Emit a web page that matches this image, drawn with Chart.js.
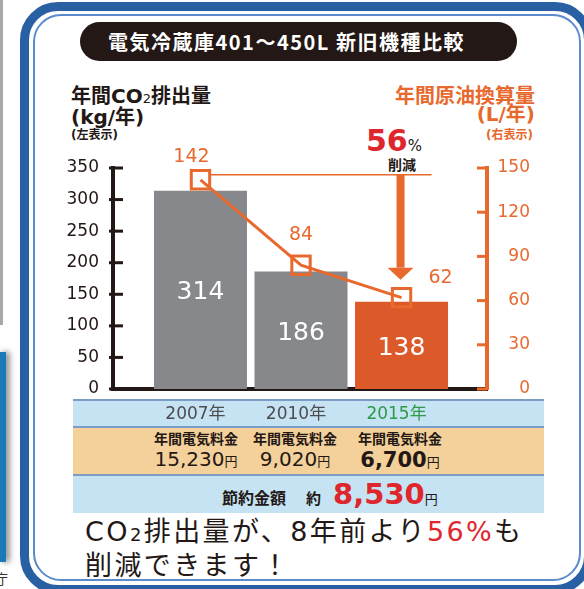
<!DOCTYPE html>
<html lang="ja">
<head>
<meta charset="utf-8">
<title>電気冷蔵庫401～450L 新旧機種比較</title>
<script src="https://cdn.jsdelivr.net/npm/chart.js@4.4.1/dist/chart.umd.min.js"></script>
<style>
  html, body { margin: 0; padding: 0; }
  body {
    width: 584px; height: 589px; overflow: hidden; position: relative; background: #fff;
    font-family: 'DejaVu Sans', 'Noto Sans CJK JP', sans-serif; color: #231815;
  }
  .abs { position: absolute; }
  .jp { font-family: 'Noto Sans CJK JP', sans-serif; }

  /* bits of the neighbouring page */
  .page-edge { left: 0; top: 0; width: 3px; height: 325px; background: #a7a8aa; }
  .page-tab { left: 0; top: 352px; width: 6px; height: 210px; background: #1b79ba; box-shadow: 3px 0 6px rgba(0,0,0,.55); }
  .page-char { left: -6px; top: 568px; font-size: 14px; color: #333; }

  /* rounded frame */
  .frame { left: 20px; top: 2px; width: 573px; height: 592px; box-sizing: border-box; border: 9px solid #2960a3; border-radius: 38px; }
  .frame-inner { left: 33px; top: 14px; width: 548px; height: 567px; box-sizing: border-box; border: 2px solid #5a8bca; border-radius: 28px; }

  .title-pill {
    left: 80px; top: 22px; width: 437px; height: 39px; border-radius: 20px; background: #231815;
    color: #fff; font-weight: 700; font-size: 20px; line-height: 39px; padding-left: 28px; box-sizing: border-box;
    letter-spacing: 1.5px; white-space: nowrap;
  }

  .axis-title { font-weight: 700; font-size: 20px; line-height: 18px; white-space: nowrap; }
  .axis-note { font-weight: 700; font-size: 12px; line-height: 13px; white-space: nowrap; }
  .left-title { left: 71px; top: 87px; }
  .left-note { left: 71px; top: 129px; }
  .right-title { right: 49px; top: 87px; text-align: right; color: #e8692d; }
  .right-note { right: 51px; top: 129px; color: #e8692d; }
  .sub2 { font-size: 13px; font-weight: 400; }

  .cut-pct { left: 366px; top: 124px; color: #e0262d; font-weight: 700; font-size: 30px; line-height: 34px; white-space: nowrap; }
  .cut-pct small { color: #231815; font-size: 15px; font-weight: 400; }
  .cut-word { left: 388px; top: 156px; font-weight: 700; font-size: 14px; line-height: 16px; }

  /* table under the chart */
  .table { left: 73px; top: 399px; width: 471px; }
  .row { position: relative; border-top: 2px solid #7b9cc4; }
  .row-year { height: 25px; background: #c5e3f2; }
  .row-cost { height: 46px; background: #f4d09a; }
  .row-save { height: 37px; background: #c5e3f2; line-height: 37px; padding-left: 149px; white-space: nowrap; }
  .cost-col { position: absolute; top: 0; width: 130px; text-align: center; white-space: nowrap; }
  .cost-label { font-weight: 700; font-size: 14px; line-height: 16px; margin-top: 2px; }
  .cost-value { font-size: 20px; line-height: 24px; }
  .cost-value.new { font-weight: 700; font-size: 21px; }
  .yen { font-size: 13px; font-weight: 400; }
  .save-label { font-weight: 700; font-size: 16px; }
  .save-about { font-weight: 700; font-size: 15px; margin-left: 20px; margin-right: 12px; }
  .save-value { font-weight: 700; font-size: 29px; color: #e0262d; }

  .message { left: 85px; top: 516px; font-size: 27px; line-height: 31px; letter-spacing: 2.4px; white-space: nowrap; }
  .message .red { color: #e0262d; }
  .message .sub2 { font-size: 18px; }

  #chart { position: absolute; left: 40px; top: 140px; z-index: 2; }
</style>
</head>
<body>
<div class="abs page-edge"></div>
<div class="abs page-tab"></div>
<div class="abs page-char jp">庁</div>

<div class="abs frame"></div>
<div class="abs frame-inner"></div>

<div class="abs title-pill jp">電気冷蔵庫401～450L 新旧機種比較</div>

<div class="abs axis-title left-title">年間CO<span class="sub2">2</span>排出量<br>(kg/年)</div>
<div class="abs axis-note left-note">(左表示)</div>
<div class="abs axis-title right-title">年間原油換算量<br>(L/年)</div>
<div class="abs axis-note right-note">(右表示)</div>

<div class="abs cut-pct">56<small>%</small></div>
<div class="abs cut-word jp">削減</div>

<div class="abs table">
  <div class="row row-year"></div>
  <div class="row row-cost" id="costRow"></div>
  <div class="row row-save" id="saveRow"></div>
</div>

<div class="abs message">CO<span class="sub2">2</span>排出量が、8年前より<span class="red">56%</span>も<br>削減できます！</div>

<canvas id="chart" width="490" height="290"></canvas>

<script>
/**
 * Chart data (read from the leaflet)
 */
const years = ['2007年', '2010年', '2015年'];
const co2Values = [314, 186, 138];          // 年間CO2排出量 kg/年 (left axis)
const oilValues = [142, 84, 62];            // 年間原油換算量 L/年 (right axis)
const co2Ticks = { max: 350, step: 50 };
const oilTicks = { max: 150, step: 30 };
const yearlyCost = ['15,230', '9,020', '6,700'];
const savedCost = '8,530';

const COLORS = {
    ink: '#231815',
    orange: '#e8692d',
    oldBar: '#87888c',
    newBar: '#dc5a29',
    year: '#4d4d52',
    green: '#2e9a47'
};

// label offsets for the orange line values (px from the marker)
const OIL_LABEL_OFFSET = [[-9, -23], [0, -30], [39, -20]];
const COST_COL_CENTER = [123, 222, 327];

document.addEventListener('DOMContentLoaded', function() {
    buildTable();
    setupChart();
});

/**
 * Fill the cost rows under the chart
 */
function buildTable() {
    const costRow = document.getElementById('costRow');
    yearlyCost.forEach((cost, i) => {
        const col = document.createElement('div');
        col.className = 'cost-col jp';
        col.style.left = (COST_COL_CENTER[i] - 65) + 'px';
        const isNew = i === yearlyCost.length - 1;
        col.innerHTML = '<div class="cost-label">年間電気料金</div>' +
            '<div class="cost-value' + (isNew ? ' new' : '') + '"><span style="font-family:DejaVu Sans">' + cost + '</span><span class="yen">円</span></div>';
        costRow.appendChild(col);
    });

    document.getElementById('saveRow').innerHTML =
        '<span class="save-label jp">節約金額</span><span class="save-about jp">約</span>' +
        '<span class="save-value">' + savedCost + '</span><span class="yen jp">円</span>';
}

/**
 * Tick marks, value labels, the 56% arrow
 */
const annotationPlugin = {
    id: 'annotations',
    afterDatasetsDraw(chart) {
        const ctx = chart.ctx;
        const area = chart.chartArea;
        const yLeft = chart.scales.y;
        const yRight = chart.scales.y2;
        const bars = chart.getDatasetMeta(0).data;
        const points = chart.getDatasetMeta(1).data;

        ctx.save();

        // tick marks crossing into the plot
        ctx.lineWidth = 3;
        ctx.strokeStyle = COLORS.ink;
        yLeft.ticks.forEach(t => {
            const py = yLeft.getPixelForValue(t.value);
            ctx.beginPath();
            ctx.moveTo(area.left - 4, py);
            ctx.lineTo(area.left + 10, py);
            ctx.stroke();
        });
        ctx.strokeStyle = COLORS.orange;
        yRight.ticks.forEach(t => {
            const py = yRight.getPixelForValue(t.value);
            ctx.beginPath();
            ctx.moveTo(area.right - 10, py);
            ctx.lineTo(area.right, py);
            ctx.stroke();
        });

        // white numbers inside bars
        ctx.fillStyle = '#fff';
        ctx.font = "25px 'DejaVu Sans'";
        ctx.textAlign = 'center';
        ctx.textBaseline = 'middle';
        bars.forEach((bar, i) => {
            ctx.fillText(String(co2Values[i]), bar.x, (bar.y + bar.base) / 2 + 3);
        });

        // orange numbers near markers
        ctx.fillStyle = COLORS.orange;
        ctx.font = "19px 'DejaVu Sans'";
        points.forEach((pt, i) => {
            const off = OIL_LABEL_OFFSET[i];
            ctx.fillText(String(oilValues[i]), pt.x + off[0], pt.y + off[1]);
        });

        // reference line at the 2007 level and the down arrow
        const first = points[0];
        const last = points[points.length - 1];
        const lineY = first.y - 5;
        const arrowX = last.x - 1;
        ctx.strokeStyle = COLORS.orange;
        ctx.lineWidth = 1.5;
        ctx.beginPath();
        ctx.moveTo(first.x + 10, lineY);
        ctx.lineTo(arrowX + 31, lineY);
        ctx.stroke();

        const tipY = last.y - 18;
        const headY = tipY - 12;
        ctx.fillStyle = COLORS.orange;
        ctx.fillRect(arrowX - 4, lineY, 8, headY - lineY);
        ctx.beginPath();
        ctx.moveTo(arrowX - 13, headY);
        ctx.lineTo(arrowX + 13, headY);
        ctx.lineTo(arrowX, tipY);
        ctx.closePath();
        ctx.fill();

        ctx.restore();
    }
};

/**
 * Bar (CO2) + line (oil) chart
 */
function setupChart() {
    Chart.defaults.font.family = "'DejaVu Sans', 'Noto Sans CJK JP', sans-serif";

    const ctx = document.getElementById('chart').getContext('2d');
    new Chart(ctx, {
        type: 'bar',
        data: {
            datasets: [{
                type: 'bar',
                label: '年間CO2排出量',
                data: co2Values.map((v, i) => ({ x: i + 1, y: v })),
                backgroundColor: c => c.dataIndex === years.length - 1 ? COLORS.newBar : COLORS.oldBar,
                categoryPercentage: 1,
                barPercentage: 0.925,
                yAxisID: 'y',
                order: 2
            }, {
                type: 'line',
                label: '年間原油換算量',
                data: oilValues.map((v, i) => ({ x: i + 1, y: v })),
                borderColor: COLORS.orange,
                borderWidth: 3,
                pointStyle: 'rect',
                pointRadius: 13,
                pointBorderWidth: 3,
                pointBorderColor: COLORS.orange,
                pointBackgroundColor: 'rgba(0,0,0,0)',
                tension: 0,
                yAxisID: 'y2',
                order: 1
            }]
        },
        options: {
            responsive: false,
            devicePixelRatio: 1,
            animation: false,
            layout: { padding: { top: 28, left: 0, right: 0, bottom: 0 } },
            plugins: {
                legend: { display: false },
                tooltip: { enabled: false }
            },
            scales: {
                x: {
                    type: 'linear',
                    offset: false,
                    min: 0.13,
                    max: 3.85,
                    grid: { display: false, offset: false },
                    border: { color: COLORS.ink, width: 4 },
                    afterBuildTicks: scale => {
                        scale.ticks = years.map((_, i) => ({ value: i + 1 }));
                    },
                    afterFit: scale => { scale.height = 41; },
                    ticks: {
                        padding: 7,
                        labelOffset: -5,
                        maxRotation: 0,
                        autoSkip: false,
                        font: { size: 17 },
                        color: c => c.index === years.length - 1 ? COLORS.green : COLORS.year,
                        callback: v => years[v - 1]
                    }
                },
                y: {
                    position: 'left',
                    min: 0,
                    max: co2Ticks.max,
                    grid: { display: false },
                    border: { color: COLORS.ink, width: 4 },
                    afterFit: scale => { scale.width = 73; },
                    ticks: {
                        stepSize: co2Ticks.step,
                        padding: 6,
                        color: COLORS.ink,
                        font: { size: 17 }
                    }
                },
                y2: {
                    position: 'right',
                    min: 0,
                    max: oilTicks.max,
                    grid: { display: false },
                    border: { color: COLORS.orange, width: 4 },
                    afterFit: scale => { scale.width = 43; },
                    ticks: {
                        stepSize: oilTicks.step,
                        padding: 6,
                        crossAlign: 'far',
                        color: COLORS.orange,
                        font: { size: 17 }
                    }
                }
            }
        },
        plugins: [annotationPlugin]
    });
}
</script>
</body>
</html>
